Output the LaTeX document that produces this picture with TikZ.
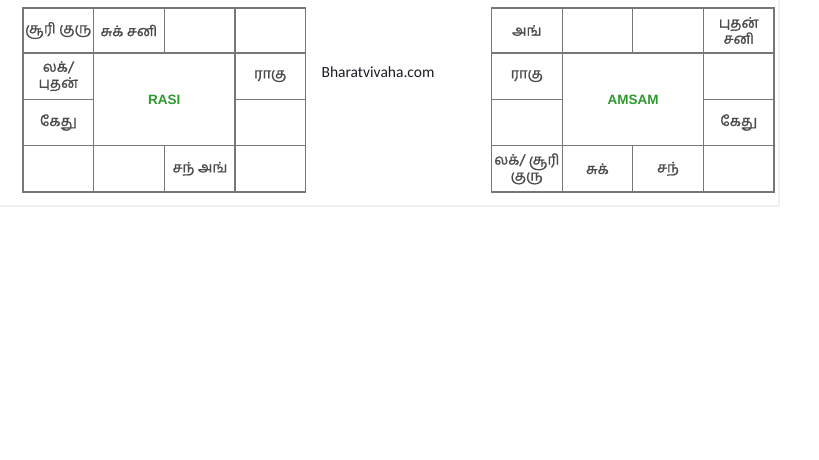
\documentclass[tikz,border=0pt]{standalone}
\usepackage{fontspec}
\setsansfont{Liberation Sans}
\newfontfamily\tamil[Script=Tamil, FakeBold=1]{Hind Madurai}
\newfontfamily\webfont{Carlito}
\definecolor{cLine}{HTML}{777777}
\definecolor{cText}{HTML}{4A4A4A}
\definecolor{cTitle}{HTML}{2E9A2E}
\definecolor{cMark}{HTML}{1A1A24}
\definecolor{cEdge}{HTML}{F0F0F0}
\tikzset{
    x=1pt, y=-1pt,
    grid/.style={draw=cLine, line width=1.2pt},
    planet/.style={font=\tamil\fontsize{14.5}{16}\selectfont, text=cText,
                   align=center, inner sep=1pt},
    title/.style={font=\sffamily\bfseries\fontsize{13.5}{15}\selectfont,
                  text=cTitle, inner sep=1pt},
    sitemark/.style={font=\webfont\fontsize{15.5}{17}\selectfont, text=cMark,
                 inner sep=0pt},
}
% one chart: 4x4 boxes, the middle 2x2 left open
\newcommand{\kattam}[1]{%
    \draw[grid] (#1,8) rectangle ({#1+282.5},192);
    \draw[grid] (#1,53) -- ({#1+282.5},53);
    \draw[grid] (#1,145.5) -- ({#1+282.5},145.5);
    \draw[grid] (#1,99.5) -- ({#1+70.6},99.5);
    \draw[grid] ({#1+211.9},99.5) -- ({#1+282.5},99.5);
    \draw[grid] ({#1+70.6},8) -- ({#1+70.6},192);
    \draw[grid] ({#1+211.9},8) -- ({#1+211.9},192);
    \draw[grid] ({#1+141.3},8) -- ({#1+141.3},53);
    \draw[grid] ({#1+141.3},145.5) -- ({#1+141.3},192);
}

\begin{document}
\begin{tikzpicture}
    \useasboundingbox (0,0) rectangle (819,460);
    \fill[white] (0,0) rectangle (819,460);
    \draw[cEdge, line width=1.5pt] (0,206) -- (779,206) -- (779,0);

    \kattam{23}
    \kattam{491.5}

    % rasi
    \node[planet] (r00) at (58.3,30.5) {சூரி குரு};
    \node[planet] (r10) at (128.9,30.5) {சுக் சனி};
    \node[planet] (r01) at (58.3,76.2) {லக்/\\புதன்};
    \node[planet] (r31) at (270.2,76.2) {ராகு};
    \node[planet] (r02) at (58.3,122.5) {கேது};
    \node[planet] (r23) at (200,168.8) {சந் அங்};
    \node[title] (rasi) at (164.3,100) {RASI};

    % amsam
    \node[planet] (a00) at (526.8,30.5) {அங்};
    \node[planet] (a30) at (738.7,30.5) {புதன்\\சனி};
    \node[planet] (a01) at (526.8,76.2) {ராகு};
    \node[planet] (a32) at (738.7,122.5) {கேது};
    \node[planet] (a03) at (526.8,168.8) {லக்/ சூரி\\குரு};
    \node[planet] (a13) at (597.4,168.8) {சுக்};
    \node[planet] (a23) at (668,168.8) {சந்};
    \node[title] (amsam) at (633,100) {AMSAM};

    \node[sitemark] (site) at (378,72) {Bharatvivaha.com};
\end{tikzpicture}
\end{document}
